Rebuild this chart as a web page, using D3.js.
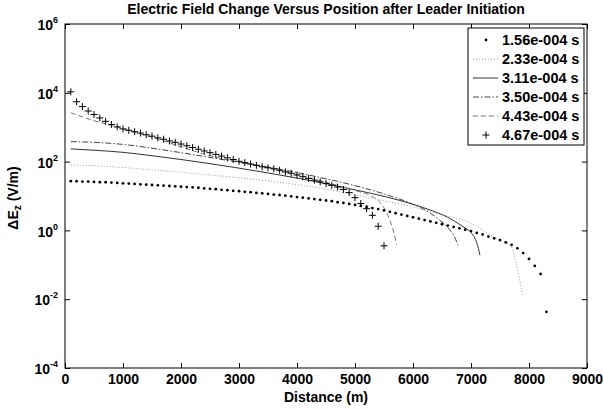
<!DOCTYPE html>
<html>
<head>
<meta charset="utf-8">
<script src="https://cdn.jsdelivr.net/npm/d3@7"></script>
<style>
  body { margin: 0; background: #fff; }
  text { font-family: "Liberation Sans", Arial, sans-serif; font-weight: bold; fill: #000; }
</style>
</head>
<body>
<div class="efield"></div>
<script>
'use strict';

// distances (m) and field change (V/m)
var dotDist = d3.range(100, 8400, 100);
var e156 = [26.9,26.9,26.3,26.3,25.7,25.1,25.1,24.5,24.0,23.4,
            22.9,22.4,21.9,21.4,20.9,20.4,20.0,19.5,19.1,18.6,
            18.2,17.8,17.4,16.6,16.2,15.8,15.1,14.8,14.1,13.8,
            13.2,12.9,12.3,12.0,11.5,11.0,10.7,10.2,9.77,9.33,
            8.91,8.51,8.13,7.76,7.41,7.08,6.61,6.31,5.89,5.50,
            5.13,4.79,4.47,4.17,3.80,3.47,3.16,2.88,2.63,2.40,
            2.19,2.00,1.82,1.66,1.51,1.38,1.26,1.15,1.05,0.955,
            0.851,0.759,0.661,0.589,0.525,0.447,0.380,0.302,0.219,0.148,
            0.093,0.054,0.0043];

var dist233 = [100,500,1000,1500,2000,2500,3000,3500,4000,4500,5000,5500,6000,6500,7000,7300,7500,7700,7750,7800,7850,7900];
var e233 = [79.4,75.9,67.6,57.5,49.0,40.7,33.9,27.5,21.4,15.8,10.7,7.24,4.79,2.88,1.62,0.794,0.501,0.331,0.178,0.0794,0.0282,0.0126];

var dist311 = [100,500,1000,1500,2000,2500,3000,3500,4000,4500,5000,5500,6000,6300,6600,6800,6900,7000,7050,7100,7155];
var e311 = [234,214,186,148,115,87.1,64.6,46.8,33.1,22.9,15.1,9.77,5.75,3.89,2.40,1.51,1.17,0.871,0.661,0.437,0.191];

var dist350 = [100,500,1000,1500,2000,2500,3000,3500,4000,4500,5000,5500,6000,6200,6400,6600,6700,6776];
var e350 = [380,363,316,245,182,132,95.5,69.2,47.9,31.6,20.0,11.5,5.75,3.98,2.40,1.20,0.724,0.372];

var dist443 = [100,300,500,700,900,1200,1600,2000,2500,3000,3500,4000,4500,5000,5300,5450,5550,5650,5720];
var e443 = [2630,2000,1550,1260,1020,708,457,269,148,97.7,66.1,41.7,25.1,14.5,9.55,6.03,3.16,1.12,0.380];

var plusDist = d3.range(100, 5600, 100);
var e467 = [10700,5500,3980,2950,2340,1860,1480,1200,1020,891,
            813,741,676,603,550,490,447,398,363,324,
            288,257,229,204,182,162,145,129,115,102,
            93.3,85.1,77.6,70.8,66.1,61.7,56.2,50.1,45.7,40.7,
            36.3,32.4,28.8,25.7,22.9,20.4,18.2,15.5,12.6,8.91,
            6.03,4.27,2.75,1.32,0.355];

var legendLabels = ["1.56e-004 s","2.33e-004 s","3.11e-004 s","3.50e-004 s","4.43e-004 s","4.67e-004 s"];
var xTicks = [0,1000,2000,3000,4000,5000,6000,7000,8000,9000];
var yTicks = [1e-4,1e-2,1,1e2,1e4,1e6];

var width = 603, height = 410;
var plotL = 65, plotR = 587, plotT = 24, plotB = 368;

var svg = d3.select(".efield")
            .append("svg")
            .attr("width", width)
            .attr("height", height);

var x = d3.scaleLinear().domain([0, 9000]).range([plotL, plotR]);
var y = d3.scaleLog().domain([1e-4, 1e6]).range([plotB, plotT]);

// axes, ticks pointing inwards on all four sides
svg.append("g")
   .attr("transform", "translate(0," + plotB + ")")
   .call(d3.axisBottom(x).tickValues(xTicks).tickSize(-5).tickPadding(6).tickFormat(d3.format("d")))
   .call(function(g){ g.select(".domain").remove(); })
   .selectAll("text").attr("font-size", 14).attr("dy", "0.74em");

svg.append("g")
   .attr("transform", "translate(0," + plotT + ")")
   .call(d3.axisTop(x).tickValues(xTicks).tickSize(-5).tickFormat(""))
   .call(function(g){ g.select(".domain").remove(); });

var yAxis = svg.append("g")
   .attr("transform", "translate(" + plotL + ",0)")
   .call(d3.axisLeft(y).tickValues(yTicks).tickSize(-5).tickPadding(7).tickFormat(function(){ return "10"; }))
   .call(function(g){ g.select(".domain").remove(); });

yAxis.selectAll("text")
     .attr("font-size", 14)
     .attr("dy", "0.4em")
     .append("tspan")
     .attr("dy", -7)
     .attr("font-size", 9)
     .text(function(d){ return Math.round(Math.log10(d)); });

svg.append("g")
   .attr("transform", "translate(" + plotR + ",0)")
   .call(d3.axisRight(y).tickValues(yTicks).tickSize(-5).tickFormat(""))
   .call(function(g){ g.select(".domain").remove(); });

svg.selectAll(".tick line").attr("stroke", "#000");

svg.append("rect")
   .attr("x", plotL).attr("y", plotT)
   .attr("width", plotR - plotL).attr("height", plotB - plotT)
   .attr("fill", "none").attr("stroke", "#000").attr("stroke-width", 1);

// titles
svg.append("text")
   .attr("x", (plotL + plotR) / 2).attr("y", 14)
   .attr("text-anchor", "middle").attr("font-size", 14)
   .text("Electric Field Change Versus Position after Leader Initiation");

svg.append("text")
   .attr("x", (plotL + plotR) / 2).attr("y", 402)
   .attr("text-anchor", "middle").attr("font-size", 14)
   .text("Distance (m)");

var ylab = svg.append("text")
   .attr("transform", "translate(18,198) rotate(-90)")
   .attr("text-anchor", "middle").attr("font-size", 14);
ylab.append("tspan").text("\u0394E");
ylab.append("tspan").attr("font-size", 10).attr("dy", 3).text("z");
ylab.append("tspan").attr("dy", -3).text(" (V/m)");

// line series
var series = [
  {dist: dist233, vals: e233, color: "#999", dash: "1,2", width: 1},
  {dist: dist311, vals: e311, color: "#333", dash: null, width: 1},
  {dist: dist350, vals: e350, color: "#444", dash: "6,2,1.5,2", width: 1},
  {dist: dist443, vals: e443, color: "#777", dash: "5,3", width: 1}
];

var line = d3.line()
             .x(function(d){ return x(d[0]); })
             .y(function(d){ return y(d[1]); })
             .curve(d3.curveMonotoneX);

var plot = svg.append("g");

series.forEach(function(s){
  plot.append("path")
      .datum(d3.zip(s.dist, s.vals))
      .attr("d", line)
      .attr("fill", "none")
      .attr("stroke", s.color)
      .attr("stroke-width", s.width)
      .attr("stroke-dasharray", s.dash);
});

// dot markers
plot.selectAll("circle.dot")
    .data(d3.zip(dotDist, e156))
    .enter().append("circle")
    .attr("class", "dot")
    .attr("cx", function(d){ return x(d[0]); })
    .attr("cy", function(d){ return y(d[1]); })
    .attr("r", 1.4)
    .attr("fill", "#000");

// plus markers
var plusPath = "M-3.5,0H3.5M0,-3.5V3.5";
plot.selectAll("path.plus")
    .data(d3.zip(plusDist, e467))
    .enter().append("path")
    .attr("class", "plus")
    .attr("d", plusPath)
    .attr("transform", function(d){ return "translate(" + x(d[0]) + "," + y(d[1]) + ")"; })
    .attr("stroke", "#000")
    .attr("stroke-width", 1);

// legend
var legend = svg.append("g");
legend.append("rect")
      .attr("x", 468).attr("y", 28)
      .attr("width", 116).attr("height", 117)
      .attr("fill", "#fff").attr("stroke", "#000");

var styles = [{type: "dot"}].concat(series.map(function(s){ return {type: "line", s: s}; })).concat([{type: "plus"}]);

var rows = legend.selectAll("g.row")
                 .data(legendLabels)
                 .enter().append("g")
                 .attr("class", "row")
                 .attr("transform", function(d, i){ return "translate(0," + (40 + i * 19) + ")"; });

rows.append("text")
    .attr("x", 502).attr("dy", "0.36em")
    .attr("font-size", 14.5)
    .text(function(d){ return d; });

rows.each(function(d, i){
  var g = d3.select(this), st = styles[i];
  if (st.type === "dot") {
    g.append("circle").attr("cx", 486).attr("cy", 0).attr("r", 1.4).attr("fill", "#000");
  } else if (st.type === "plus") {
    g.append("path").attr("d", plusPath).attr("transform", "translate(486,0)").attr("stroke", "#000");
  } else {
    g.append("line").attr("x1", 473).attr("x2", 498).attr("y1", 0).attr("y2", 0)
     .attr("stroke", st.s.color).attr("stroke-width", st.s.width).attr("stroke-dasharray", st.s.dash);
  }
});
</script>
</body>
</html>
